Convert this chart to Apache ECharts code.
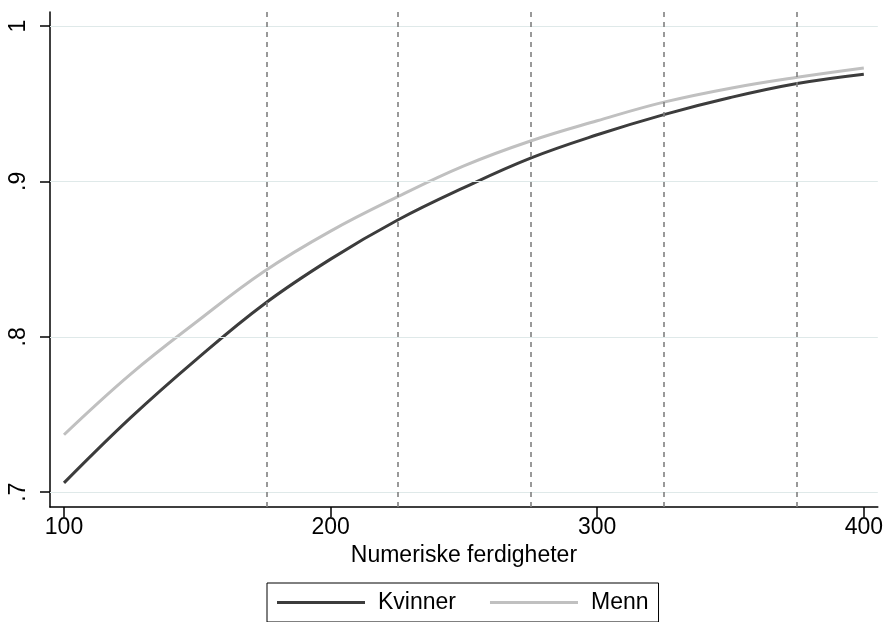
<!DOCTYPE html>
<html>
<head>
<meta charset="utf-8">
<script src="https://cdn.jsdelivr.net/npm/echarts@6/dist/echarts.min.js"></script>
<style>
  html, body { margin: 0; padding: 0; background: #fff; }
  #chart { width: 886px; height: 622px; }
</style>
</head>
<body>
<div id="chart"></div>
<script>
// values
const xValues = [100, 125, 150, 175, 200, 225, 250, 275, 300, 325, 350, 375, 400]
const kvinner = [0.706, 0.748, 0.786, 0.821, 0.850, 0.875, 0.896, 0.915, 0.930, 0.943, 0.954, 0.963, 0.969]
const menn = [0.737, 0.776, 0.810, 0.842, 0.868, 0.890, 0.910, 0.926, 0.939, 0.951, 0.960, 0.967, 0.973]
const cutoffs = [176, 225, 275, 325, 375]
const xTicks = [100, 200, 300, 400]
const yTicks = [0.7, 0.8, 0.9, 1]
const yTickLabels = ['.7', '.8', '.9', '1']

const FONT = 'Liberation Sans, Arial, sans-serif'

const chart = echarts.init(document.getElementById('chart'))

const pairs = ys => xValues.map((x, i) => [x, ys[i]])

chart.setOption({
  animation: false,
  backgroundColor: '#fff',
  textStyle: { fontFamily: FONT },
  grid: { left: 50, right: 8, top: 12, bottom: 115 },
  legend: {
    left: 267,
    top: 583,
    padding: [8, 10, 8, 10],
    borderColor: '#000',
    borderWidth: 1,
    itemWidth: 88,
    itemHeight: 3,
    itemGap: 34,
    icon: 'rect',
    textStyle: { fontSize: 23, color: '#000', fontFamily: FONT, padding: [0, 0, 0, 8] },
    data: ['Kvinner', 'Menn'],
  },
  xAxis: {
    type: 'value',
    min: 94.75,
    max: 405.25,
    name: 'Numeriske ferdigheter',
    nameLocation: 'middle',
    nameGap: 36,
    nameTextStyle: { fontSize: 23, color: '#000', fontFamily: FONT },
    axisLine: { lineStyle: { color: '#000', width: 1.5 } },
    axisTick: { customValues: xTicks, length: 10, lineStyle: { color: '#000', width: 1.5 } },
    axisLabel: { customValues: xTicks, margin: 9, fontSize: 23, color: '#000', fontFamily: FONT },
    splitLine: { show: false },
  },
  yAxis: {
    type: 'value',
    min: 0.6905,
    max: 1.009,
    axisLine: { show: true, lineStyle: { color: '#000', width: 1.5 } },
    axisTick: { show: true, customValues: yTicks, length: 10, lineStyle: { color: '#000', width: 1.5 } },
    axisLabel: {
      customValues: yTicks,
      rotate: 90,
      margin: 20,
      fontSize: 23,
      color: '#000',
      fontFamily: FONT,
      formatter: v => yTickLabels[yTicks.findIndex(t => Math.abs(t - v) < 1e-6)],
    },
    splitLine: { show: false },
  },
  series: [
    {
      // grid lines and cut-off lines
      type: 'line',
      data: [],
      silent: true,
      markLine: {
        silent: true,
        symbol: 'none',
        label: { show: false },
        data: [
          ...yTicks.map(v => ({ yAxis: v, lineStyle: { color: '#dfe9e9', width: 1.2, type: 'solid' } })),
          ...cutoffs.map(v => ({ xAxis: v, lineStyle: { color: '#808080', width: 1.6, type: [5, 5] } })),
        ],
      },
    },
    {
      name: 'Kvinner',
      type: 'line',
      data: pairs(kvinner),
      showSymbol: false,
      smooth: 0.4,
      color: '#3c3c3c',
      lineStyle: { color: '#3c3c3c', width: 3 },
      z: 4,
    },
    {
      name: 'Menn',
      type: 'line',
      data: pairs(menn),
      showSymbol: false,
      smooth: 0.4,
      color: '#c0c0c0',
      lineStyle: { color: '#c0c0c0', width: 3 },
      z: 3,
    },
  ],
})
</script>
</body>
</html>
